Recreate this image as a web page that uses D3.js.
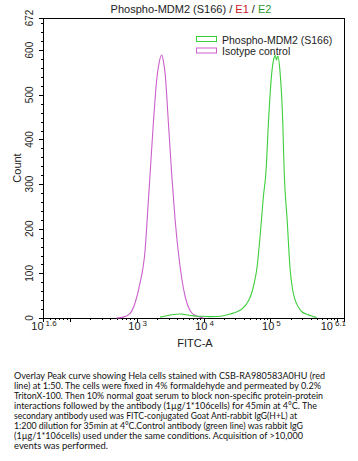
<!DOCTYPE html>
<html><head><meta charset="utf-8">
<script src="https://cdn.jsdelivr.net/npm/d3@7"></script>
<style>
html,body{margin:0;padding:0;background:#fff;}
svg{display:block;}
</style></head>
<body>
<svg id="c" width="358" height="461"></svg>
<script>
// ---- data ----
const titleParts = ["Phospho-MDM2 (S166) / ", "E1", " / ", "E2"];
const seriesNames = ["Phospho-MDM2 (S166)", "Isotype control"];
const yTickValues = [0, 100, 200, 300, 400, 500, 600, 672];
const xTickExponents = ["1.6", "3", "4", "5", "6.1"];
// Isotype control (pink): log10(FITC-A) and counts
const isoLog =   [2.70, 2.80, 2.90, 2.975, 3.05, 3.125, 3.17, 3.20, 3.25, 3.30, 3.34, 3.375, 3.40, 3.425, 3.475, 3.525, 3.575, 3.625, 3.675, 3.725, 3.80, 3.87, 3.95, 4.00];
const isoCount = [0,    2,    10,   33,    78,   150,   250,  320,  437,  533,  575,  589,   575,  549,   437,   320,   220,   145,   88,    48,    16,   6,    2,    0];
// Phospho-MDM2 (green)
const pLog =   [3.35, 3.45, 3.55, 3.65, 3.72, 3.80, 3.90, 4.00, 4.10, 4.25, 4.40, 4.50, 4.59, 4.67, 4.72, 4.76, 4.795, 4.845, 4.895, 4.935, 4.97, 5.02, 5.05, 5.075, 5.09, 5.11, 5.145, 5.185, 5.205, 5.25, 5.295, 5.33, 5.37, 5.42, 5.47, 5.57, 5.63, 5.69];
const pCount = [2,    5,    8,    9,    8,    6,    4,    4,    3,    4,    9,    14,   22,   38,   56,   80,   108,   182,   272,   331,   437,  549,  580,  588,   578,  586,  549,   437,   331,   220,  108,   65,   40,   24,   14,   7,    4,    1];
const caption = [
 "Overlay Peak curve showing Hela cells stained with CSB-RA980583A0HU (red",
 "line) at 1:50. The cells were fixed in 4% formaldehyde and permeated by 0.2%",
 "TritonX-100. Then 10% normal goat serum to block non-specific protein-protein",
 "interactions followed by the antibody (1\u00b5g/1*106cells) for 45min at 4\u00b0C. The",
 "secondary antibody used was FITC-conjugated Goat Anti-rabbit IgG(H+L) at",
 "1:200 dilution for 35min at 4\u00b0C.Control antibody (green line) was rabbit IgG",
 "(1\u00b5g/1*106cells) used under the same conditions. Acquisition of >10,000",
 "events was performed."
];
const captionWidths = [311, 307, 309, 303, 283, 289, 289, 94];

// ---- layout ----
const L = 43, R = 344, T = 18, B = 318;
const svg = d3.select("#c");
const font = "'Liberation Sans', Arial, sans-serif";
const green = "#3ccf3c", pink = "#cc5fcc";

const x = d3.scaleLog().domain([Math.pow(10, 1.6), Math.pow(10, 6.1)]).range([L, R]);
const y = d3.scaleLinear().domain([0, 672]).range([B, T]);

// title
const tt = svg.append("text").attr("x", 191).attr("y", 13).attr("text-anchor", "middle")
  .attr("font-family", font).attr("font-size", 11);
const tcol = ["#222", "#c8202a", "#222", "#2e9a2e"];
titleParts.forEach((p, i) => tt.append("tspan").attr("fill", tcol[i]).text(p));

// box
svg.append("rect").attr("x", L).attr("y", T).attr("width", R - L).attr("height", B - T)
  .attr("fill", "none").attr("stroke", "#000").attr("stroke-width", 1).attr("shape-rendering", "crispEdges");

// y axis major ticks
const yAxis = d3.axisLeft(y).tickValues(yTickValues).tickSize(4).tickFormat("");
const gy = svg.append("g").attr("transform", `translate(${L},0)`).call(yAxis);
gy.select(".domain").remove();
gy.selectAll("line").attr("shape-rendering", "crispEdges");
const yMinor = d3.range(20, 672, 20).filter(v => v % 100 !== 0);
const gym = svg.append("g").attr("transform", `translate(${L},0)`)
  .call(d3.axisLeft(y).tickValues(yMinor).tickSize(2).tickFormat(""));
gym.select(".domain").remove();
gym.selectAll("line").attr("shape-rendering", "crispEdges");
// y labels rotated
yTickValues.forEach(v => {
  svg.append("text").attr("transform", `translate(33,${y(v)}) rotate(-90)`)
    .attr("text-anchor", "middle").attr("font-family", font).attr("font-size", 10)
    .attr("fill", "#222").text(v);
});
svg.append("text").attr("transform", `translate(21,168) rotate(-90)`)
  .attr("text-anchor", "middle").attr("font-family", font).attr("font-size", 11)
  .attr("fill", "#222").text("Count");

// x axis ticks
const xMajorVals = [Math.pow(10, 1.6), 1e2, 1e3, 1e4, 1e5, 1e6, Math.pow(10, 6.1)];
const gx = svg.append("g").attr("transform", `translate(0,${B})`)
  .call(d3.axisBottom(x).tickValues(xMajorVals).tickSize(4).tickFormat(""));
gx.select(".domain").remove();
gx.selectAll("line").attr("shape-rendering", "crispEdges");
const xMinorVals = [];
[10, 100, 1e3, 1e4, 1e5, 1e6].forEach(d => { for (let k = 2; k <= 9; k++) { const v = d * k; if (v > Math.pow(10, 1.6) && v < Math.pow(10, 6.1)) xMinorVals.push(v); } });
const gxm = svg.append("g").attr("transform", `translate(0,${B})`)
  .call(d3.axisBottom(x).tickValues(xMinorVals).tickSize(2).tickFormat(""));
gxm.select(".domain").remove();
gxm.selectAll("line").attr("shape-rendering", "crispEdges");
// x labels
xTickExponents.forEach((e, i) => {
  const v = Math.pow(10, +e);
  const last = i === xTickExponents.length - 1;
  const t = svg.append("text").attr("x", last ? x(v) + 2 : x(v) + 1).attr("y", 330)
    .attr("text-anchor", last ? "end" : "middle").attr("font-family", font).attr("font-size", 11).attr("fill", "#222");
  t.append("tspan").text("10");
  t.append("tspan").attr("font-size", 8).attr("dx", 2).attr("dy", -4).text(e);
});
svg.append("text").attr("x", 195).attr("y", 347).attr("text-anchor", "middle")
  .attr("font-family", font).attr("font-size", 11).attr("fill", "#222").text("FITC-A");

// curves
const line = d3.line().x(d => x(Math.pow(10, d[0]))).y(d => y(d[1])).curve(d3.curveMonotoneX);
svg.append("path").datum(isoLog.map((v, i) => [v, isoCount[i]]))
  .attr("d", line).attr("fill", "none").attr("stroke", pink).attr("stroke-width", 1.1);
svg.append("path").datum(pLog.map((v, i) => [v, pCount[i]]))
  .attr("d", line).attr("fill", "none").attr("stroke", green).attr("stroke-width", 1.1);

// legend
const legCols = [green, pink];
seriesNames.forEach((n, i) => {
  const yy = 36.5 + i * 11.5;
  svg.append("rect").attr("x", 196.5).attr("y", yy).attr("width", 20).attr("height", 5)
    .attr("fill", "#fff").attr("stroke", legCols[i]).attr("stroke-width", 1);
  svg.append("text").attr("x", 222).attr("y", yy + 7).attr("font-family", font)
    .attr("font-size", 10.5).attr("fill", "#222").text(n);
});

// caption
caption.forEach((c, i) => {
  svg.append("text").attr("x", 14).attr("y", 379 + i * 10.05)
    .attr("font-family", "Lato, 'Open Sans', sans-serif").attr("font-size", 9.5).attr("fill", "#111")
    .attr("textLength", captionWidths[i]).attr("lengthAdjust", "spacingAndGlyphs").text(c);
});
</script>
</body></html>
